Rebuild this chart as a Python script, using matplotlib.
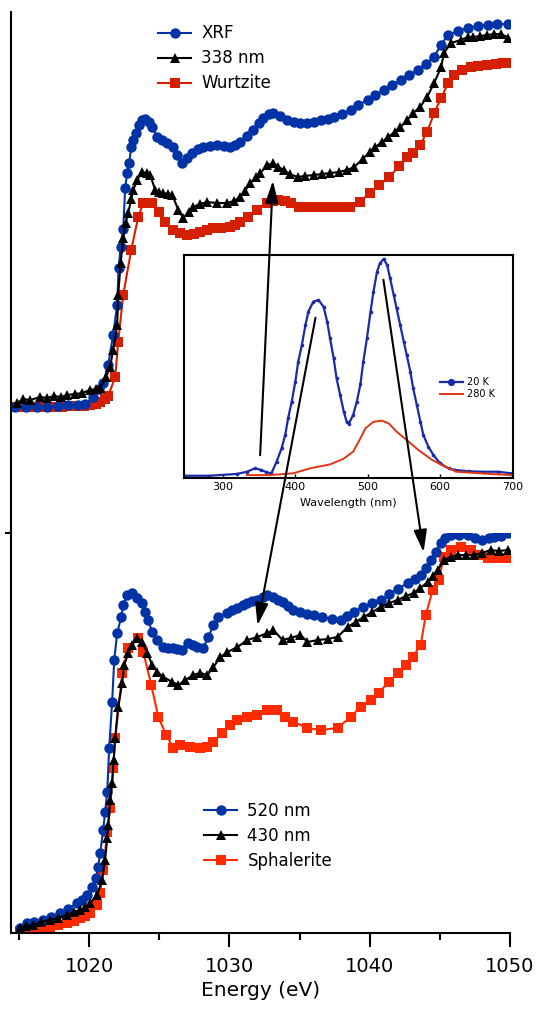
import matplotlib
matplotlib.use("Agg")
import matplotlib.pyplot as plt
from matplotlib.patches import FancyArrowPatch

# ---- top panel: XRF / 338 nm / Wurtzite ----
xrf_e = [1014.7, 1015.5, 1016.3, 1017.0, 1017.8, 1018.5, 1019.2, 1019.7, 1020.3, 1020.7,
         1021.0, 1021.36, 1021.71, 1022.0, 1022.1, 1022.25, 1022.43, 1022.57, 1022.71, 1022.86,
         1023.0, 1023.14, 1023.36, 1023.57, 1023.8, 1024.0, 1024.25, 1024.5, 1024.86, 1025.2,
         1025.57, 1026.0, 1026.3, 1026.64, 1027.0, 1027.36, 1027.75, 1028.14, 1028.6, 1029.14,
         1029.6, 1030.07, 1030.4, 1030.79, 1031.25, 1031.71, 1032.1, 1032.43, 1032.8, 1033.14,
         1033.6, 1034.14, 1034.6, 1035.07, 1035.5, 1036.0, 1036.5, 1037.0, 1037.43, 1038.0,
         1038.64, 1039.2, 1039.86, 1040.4, 1041.0, 1041.6, 1042.21, 1042.8, 1043.43, 1044.0,
         1044.57, 1045.1, 1045.57, 1046.3, 1047.0, 1047.7, 1048.43, 1049.1, 1049.86]
xrf_y = [0.0, 0.0, 0.0, 0.0, 0.005, 0.01, 0.01, 0.015, 0.05, 0.09,
         0.12, 0.21, 0.36, 0.51, 0.695, 0.80, 0.89, 1.095, 1.17, 1.22,
         1.30, 1.335, 1.37, 1.41, 1.435, 1.44, 1.425, 1.40, 1.35, 1.335,
         1.32, 1.30, 1.26, 1.22, 1.245, 1.27, 1.29, 1.30, 1.305, 1.31,
         1.305, 1.30, 1.31, 1.325, 1.355, 1.385, 1.42, 1.445, 1.465, 1.47,
         1.455, 1.435, 1.425, 1.42, 1.42, 1.425, 1.435, 1.44, 1.45, 1.465,
         1.485, 1.51, 1.535, 1.56, 1.585, 1.61, 1.635, 1.66, 1.685, 1.715,
         1.75, 1.81, 1.86, 1.88, 1.895, 1.905, 1.91, 1.915, 1.915]

nm338_e = [1014.86, 1015.3, 1015.8, 1016.5, 1017.0, 1017.5, 1018.0, 1018.43, 1019.0, 1019.5,
           1020.07, 1020.5, 1020.79, 1021.2, 1021.5, 1021.71, 1022.0, 1022.07, 1022.25, 1022.43,
           1022.6, 1022.79, 1023.0, 1023.14, 1023.43, 1023.79, 1024.1, 1024.36, 1024.71, 1025.0,
           1025.29, 1025.6, 1025.93, 1026.36, 1026.71, 1027.1, 1027.43, 1027.9, 1028.43, 1029.1,
           1029.86, 1030.3, 1030.79, 1031.1, 1031.5, 1031.9, 1032.21, 1032.71, 1033.14, 1033.5,
           1033.86, 1034.3, 1034.86, 1035.4, 1036.0, 1036.6, 1037.2, 1037.8, 1038.4, 1038.9,
           1039.5, 1040.0, 1040.4, 1040.9, 1041.3, 1041.8, 1042.2, 1042.7, 1043.1, 1043.6,
           1044.1, 1044.6, 1045.1, 1045.3, 1045.8, 1046.5, 1047.0, 1047.4, 1047.9, 1048.4,
           1048.9, 1049.4, 1049.9]
nm338_y = [0.02, 0.04, 0.035, 0.05, 0.045, 0.055, 0.05, 0.06, 0.065, 0.07,
           0.085, 0.09, 0.095, 0.15, 0.20, 0.285, 0.41, 0.56, 0.72, 0.845,
           0.92, 0.97, 1.04, 1.085, 1.135, 1.175, 1.17, 1.16, 1.085, 1.075,
           1.07, 1.065, 1.06, 0.985, 0.945, 0.975, 1.00, 1.015, 1.025, 1.02,
           1.02, 1.03, 1.05, 1.08, 1.12, 1.15, 1.17, 1.21, 1.22, 1.20,
           1.185, 1.165, 1.15, 1.155, 1.16, 1.165, 1.17, 1.175, 1.185, 1.20,
           1.24, 1.275, 1.30, 1.325, 1.35, 1.375, 1.40, 1.435, 1.47, 1.50,
           1.55, 1.62, 1.70, 1.77, 1.82, 1.835, 1.85, 1.85, 1.855, 1.86,
           1.865, 1.865, 1.845]

wurtz_e = [1014.6, 1015.1, 1015.6, 1016.1, 1016.6, 1017.1, 1017.6, 1018.1, 1018.6, 1019.1,
           1019.6, 1020.07, 1020.5, 1020.79, 1021.1, 1021.36, 1021.86, 1022.07, 1022.43, 1023.0,
           1023.5, 1023.86, 1024.5, 1025.0, 1025.43, 1026.0, 1026.5, 1027.0, 1027.5, 1027.93,
           1028.4, 1028.86, 1029.4, 1030.07, 1030.4, 1030.79, 1031.36, 1032.0, 1032.71, 1033.1,
           1033.5, 1034.0, 1034.36, 1034.93, 1035.4, 1035.9, 1036.6, 1037.3, 1038.0, 1038.6,
           1039.3, 1040.0, 1040.7, 1041.4, 1042.1, 1042.7, 1043.1, 1043.6, 1044.1, 1044.6,
           1045.1, 1045.6, 1046.0, 1046.6, 1047.2, 1047.7, 1048.4, 1049.0, 1049.5, 1050.0]
wurtz_y = [0.0, 0.0, 0.0, 0.0, 0.0, 0.0, 0.0, 0.0, 0.005, 0.005,
           0.005, 0.01, 0.015, 0.025, 0.04, 0.055, 0.15, 0.325, 0.56, 0.785,
           0.95, 1.02, 1.02, 0.975, 0.925, 0.885, 0.87, 0.86, 0.865, 0.875,
           0.885, 0.895, 0.895, 0.90, 0.91, 0.925, 0.95, 0.985, 1.02, 1.03,
           1.035, 1.03, 1.02, 1.00, 1.00, 1.00, 1.00, 1.00, 1.00, 1.00,
           1.025, 1.07, 1.11, 1.15, 1.205, 1.25, 1.27, 1.31, 1.375, 1.47,
           1.545, 1.62, 1.66, 1.685, 1.70, 1.705, 1.71, 1.715, 1.72, 1.72]

# ---- bottom panel: 520 nm / 430 nm / Sphalerite ----
nm520_e = [1015.07, 1015.57, 1016.1, 1016.71, 1017.3, 1017.93, 1018.5, 1019.14, 1019.5, 1019.86,
           1020.21, 1020.5, 1020.64, 1020.79, 1021.0, 1021.14, 1021.29, 1021.43, 1021.64, 1021.79,
           1022.0, 1022.29, 1022.43, 1022.71, 1023.07, 1023.43, 1023.79, 1024.0, 1024.21, 1024.5,
           1024.86, 1025.29, 1025.6, 1026.0, 1026.3, 1026.64, 1027.07, 1027.4, 1027.71, 1028.14,
           1028.5, 1028.86, 1029.21, 1029.86, 1030.2, 1030.57, 1031.0, 1031.29, 1031.6, 1032.0,
           1032.4, 1032.71, 1033.14, 1033.5, 1033.79, 1034.2, 1034.57, 1035.0, 1035.5, 1036.0,
           1036.6, 1037.3, 1037.93, 1038.4, 1038.86, 1039.5, 1040.2, 1040.79, 1041.4, 1042.0,
           1042.71, 1043.2, 1043.64, 1044.0, 1044.36, 1044.7, 1045.07, 1045.4, 1045.79, 1046.4,
           1047.0, 1047.5, 1048.0, 1048.5, 1048.86, 1049.4, 1049.9]
nm520_y = [0.01, 0.035, 0.04, 0.05, 0.065, 0.085, 0.105, 0.135, 0.15, 0.175,
           0.215, 0.26, 0.315, 0.385, 0.50, 0.59, 0.69, 0.91, 1.14, 1.35,
           1.485, 1.565, 1.625, 1.675, 1.685, 1.66, 1.635, 1.59, 1.55, 1.49,
           1.45, 1.415, 1.41, 1.41, 1.405, 1.40, 1.435, 1.425, 1.415, 1.41,
           1.465, 1.525, 1.565, 1.585, 1.60, 1.61, 1.625, 1.635, 1.645, 1.65,
           1.665, 1.675, 1.665, 1.65, 1.64, 1.62, 1.60, 1.59, 1.58, 1.575,
           1.565, 1.555, 1.55, 1.57, 1.59, 1.615, 1.635, 1.65, 1.68, 1.705,
           1.735, 1.755, 1.775, 1.81, 1.85, 1.89, 1.935, 1.96, 1.975, 1.975,
           1.975, 1.96, 1.95, 1.96, 1.965, 1.97, 1.985]

nm430_e = [1015.07, 1015.5, 1016.0, 1016.6, 1017.21, 1017.8, 1018.43, 1018.9, 1019.36, 1019.7,
           1020.07, 1020.57, 1020.93, 1021.14, 1021.29, 1021.36, 1021.5, 1021.64, 1021.75, 1021.86,
           1022.07, 1022.36, 1022.5, 1022.79, 1023.07, 1023.43, 1023.79, 1024.14, 1024.5, 1024.86,
           1025.29, 1025.93, 1026.36, 1026.86, 1027.43, 1027.93, 1028.43, 1028.86, 1029.36, 1029.86,
           1030.57, 1031.29, 1032.0, 1032.71, 1033.14, 1033.79, 1034.36, 1035.07, 1035.57, 1036.3,
           1037.0, 1037.71, 1038.43, 1039.0, 1039.57, 1040.2, 1040.79, 1041.4, 1042.0, 1042.6,
           1043.14, 1043.6, 1044.14, 1044.5, 1044.86, 1045.29, 1045.8, 1046.29, 1046.9, 1047.43,
           1048.0, 1048.64, 1049.2, 1049.86]
nm430_y = [0.01, 0.02, 0.025, 0.04, 0.05, 0.06, 0.075, 0.09, 0.10, 0.115,
           0.135, 0.175, 0.25, 0.35, 0.46, 0.525, 0.65, 0.735, 0.85, 0.96,
           1.115, 1.235, 1.325, 1.385, 1.425, 1.46, 1.44, 1.385, 1.325, 1.29,
           1.265, 1.24, 1.225, 1.25, 1.275, 1.285, 1.275, 1.315, 1.365, 1.39,
           1.415, 1.45, 1.465, 1.485, 1.50, 1.45, 1.46, 1.475, 1.44, 1.45,
           1.455, 1.465, 1.515, 1.54, 1.565, 1.59, 1.615, 1.635, 1.65, 1.67,
           1.685, 1.71, 1.74, 1.77, 1.80, 1.85, 1.865, 1.875, 1.875, 1.875,
           1.885, 1.90, 1.895, 1.90]

sphal_e = [1015.07, 1015.5, 1016.0, 1016.6, 1017.21, 1017.8, 1018.43, 1018.9, 1019.36, 1019.7,
           1020.07, 1020.57, 1020.79, 1021.0, 1021.29, 1021.5, 1021.71, 1021.86, 1022.36, 1022.79,
           1023.5, 1023.86, 1024.43, 1024.93, 1025.5, 1026.0, 1026.5, 1027.21, 1027.93, 1028.43,
           1028.86, 1029.5, 1030.07, 1030.57, 1031.29, 1032.0, 1032.71, 1033.43, 1034.0, 1034.57,
           1035.57, 1036.5, 1037.71, 1038.64, 1039.36, 1040.07, 1040.64, 1041.36, 1042.0, 1042.57,
           1043.07, 1043.64, 1044.0, 1044.5, 1044.93, 1045.29, 1045.79, 1046.5, 1047.21, 1047.79,
           1048.43, 1049.14, 1049.86]
sphal_y = [-0.005, 0.0, 0.0, 0.01, 0.015, 0.025, 0.035, 0.045, 0.06, 0.07,
           0.085, 0.125, 0.185, 0.30, 0.49, 0.61, 0.81, 0.96, 1.285, 1.41,
           1.46, 1.39, 1.225, 1.065, 0.975, 0.91, 0.925, 0.915, 0.91, 0.915,
           0.94, 0.985, 1.025, 1.05, 1.065, 1.075, 1.10, 1.10, 1.065, 1.04,
           1.01, 1.00, 1.01, 1.065, 1.115, 1.15, 1.185, 1.24, 1.285, 1.325,
           1.365, 1.425, 1.575, 1.70, 1.75, 1.865, 1.90, 1.915, 1.90, 1.875,
           1.86, 1.86, 1.86]

# ---- inset: photoluminescence ----
pl20_wl = [247, 280, 319, 333, 344, 353, 360, 367, 374, 381,
           386, 390, 395, 400, 404, 409, 414, 418, 425, 432,
           439, 444, 448, 453, 457, 462, 467, 471, 474, 480,
           485, 490, 494, 499, 504, 508, 513, 517, 522, 527,
           531, 536, 540, 545, 550, 554, 559, 563, 568, 573,
           577, 584, 591, 600, 612, 621, 640, 660, 680, 699]
pl20_i = [0.01, 0.01, 0.018, 0.028, 0.043, 0.036, 0.026, 0.021, 0.073, 0.133,
          0.193, 0.268, 0.342, 0.432, 0.522, 0.596, 0.686, 0.746, 0.791, 0.798,
          0.768, 0.701, 0.626, 0.537, 0.447, 0.372, 0.297, 0.252, 0.244, 0.283,
          0.342, 0.42, 0.522, 0.626, 0.746, 0.835, 0.925, 0.963, 0.982, 0.955,
          0.896, 0.821, 0.761, 0.686, 0.611, 0.552, 0.477, 0.402, 0.327, 0.252,
          0.193, 0.140, 0.103, 0.066, 0.043, 0.036, 0.03, 0.028, 0.028, 0.021]
pl280_wl = [333, 365, 397, 420, 448, 466, 480, 490, 497, 508,
            520, 529, 540, 554, 570, 589, 607, 623, 642, 670, 699]
pl280_i = [0.013, 0.013, 0.021, 0.043, 0.061, 0.085, 0.118, 0.178, 0.223, 0.252,
           0.257, 0.245, 0.208, 0.170, 0.126, 0.081, 0.051, 0.028, 0.024, 0.018, 0.013]

blue = "#0033a6"
red_top = "#d42000"
red_bot = "#ff2a00"

plt.rcParams["font.family"] = "DejaVu Sans"

fig = plt.figure(figsize=(5.37, 10.17), dpi=100)
ax_top = fig.add_axes([0.0205, 0.4759, 0.929, 0.5123])
ax_bot = fig.add_axes([0.0205, 0.0826, 0.929, 0.3933])

ax_top.plot(wurtz_e, wurtz_y, color=red_top, marker="s", ms=6.5, mew=0, lw=1.5, label="Wurtzite")
ax_top.plot(xrf_e, xrf_y, color=blue, marker="o", ms=7.5, mew=0, lw=1.5, label="XRF")
ax_top.plot(nm338_e, nm338_y, color="black", marker="^", ms=6.5, mew=0, lw=1.5, label="338 nm")

ax_bot.plot(sphal_e, sphal_y, color=red_bot, marker="s", ms=6.5, mew=0, lw=1.5, label="Sphalerite")
ax_bot.plot(nm520_e, nm520_y, color=blue, marker="o", ms=7.5, mew=0, lw=1.5, label="520 nm")
ax_bot.plot(nm430_e, nm430_y, color="black", marker="^", ms=6.5, mew=0, lw=1.5, label="430 nm")

for ax in (ax_top, ax_bot):
    ax.set_xlim(1014.43, 1050)
    ax.patch.set_alpha(0)
    for s in ("top", "right"):
        ax.spines[s].set_visible(False)
    ax.spines["left"].set_linewidth(1.5)

ax_top.set_ylim(-0.63, 1.975)
ax_top.spines["bottom"].set_visible(False)
ax_top.set_xticks([])
ax_top.set_yticks([])

ax_bot.set_ylim(-0.015, 1.985)
ax_bot.spines["bottom"].set_linewidth(1.5)
ax_bot.set_yticks([1.985])
ax_bot.set_yticklabels([])
ax_bot.tick_params(axis="y", length=4, width=1.5, direction="out")
ax_bot.set_xticks([1020, 1030, 1040, 1050])
ax_bot.set_xticks([1015, 1025, 1035, 1045], minor=True)
ax_bot.tick_params(axis="x", which="major", length=10, width=1.5, labelsize=14, pad=7)
ax_bot.tick_params(axis="x", which="minor", length=5, width=1.5)
ax_bot.set_xlabel("Energy (eV)", fontsize=14.5, labelpad=4)

h, l = ax_top.get_legend_handles_labels()
order = [1, 2, 0]
fig.legend([h[i] for i in order], [l[i] for i in order], loc="upper left",
           bbox_to_anchor=(0.294, 0.976), frameon=False, fontsize=12, numpoints=1,
           handlelength=2.0, handletextpad=0.6, labelspacing=0.42, borderpad=0, borderaxespad=0)
h, l = ax_bot.get_legend_handles_labels()
fig.legend([h[i] for i in order], [l[i] for i in order], loc="upper left",
           bbox_to_anchor=(0.380, 0.2114), frameon=False, fontsize=12, numpoints=1,
           handlelength=2.0, handletextpad=0.6, labelspacing=0.42, borderpad=0, borderaxespad=0)

# inset
ax_in = fig.add_axes([0.3426, 0.530, 0.6127, 0.2193], zorder=5)
ax_in.plot(pl20_wl, pl20_i, color="#1a2aa8", marker="o", ms=2.6, mew=0, lw=1.6, label="20 K")
ax_in.plot(pl280_wl, pl280_i, color="#e03412", lw=1.4, label="280 K")
ax_in.set_xlim(246, 701)
ax_in.set_ylim(0, 1)
ax_in.set_yticks([])
ax_in.set_xticks([300, 400, 500, 600, 700])
ax_in.tick_params(axis="x", direction="in", length=3, width=1, labelsize=8, pad=3)
for s in ax_in.spines.values():
    s.set_linewidth(1.5)
ax_in.set_xlabel("Wavelength (nm)", fontsize=8, labelpad=4)
ax_in.legend(loc="upper left", bbox_to_anchor=(0.819, 0.629), bbox_transform=fig.transFigure,
             frameon=False, fontsize=7, handlelength=2.4, handletextpad=0.4,
             labelspacing=0.2, borderpad=0, borderaxespad=0, numpoints=1, markerscale=2.0)

# arrows linking inset peaks to the spectra (figure pixel positions)
W, H = 537.0, 1017.0
arrows = [((260, 458), (273, 178)), ((316, 315), (257, 628)), ((383, 277), (424, 555))]
for (x0, y0), (x1, y1) in arrows:
    arr = FancyArrowPatch((x0 / W, 1 - y0 / H), (x1 / W, 1 - y1 / H),
                          transform=fig.transFigure, arrowstyle="-|>,head_length=1.35,head_width=0.4",
                          mutation_scale=10, color="black", lw=1.5, zorder=10)
    fig.add_artist(arr)

fig.savefig("out.png", dpi=100)
